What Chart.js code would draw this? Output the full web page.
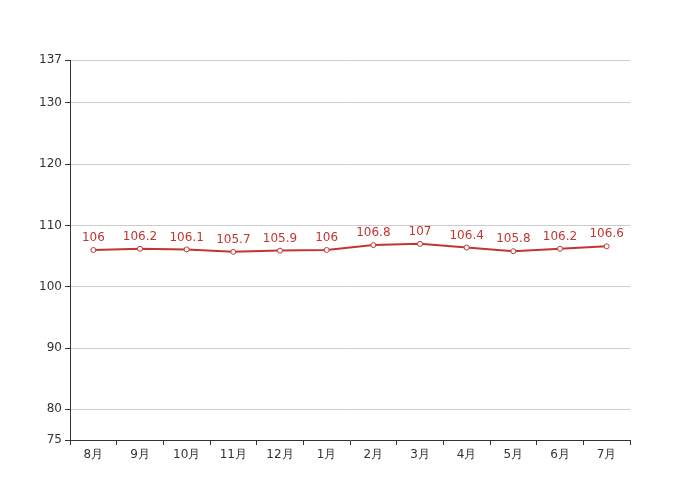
<!DOCTYPE html>
<html>
<head>
<meta charset="utf-8">
<script src="https://cdn.jsdelivr.net/npm/chart.js@4"></script>
<style>
  body { margin: 0; background: #fff; }
  #wrap { width: 700px; height: 500px; }
</style>
</head>
<body>
<div id="wrap"><canvas id="chart" width="700" height="500"></canvas></div>
<script>
const months = ["8月", "9月", "10月", "11月", "12月", "1月", "2月", "3月", "4月", "5月", "6月", "7月"];
const values = [106, 106.2, 106.1, 105.7, 105.9, 106, 106.8, 107, 106.4, 105.8, 106.2, 106.6];
const yTicks = [75, 80, 90, 100, 110, 120, 130, 137];

const lineColor = "#c23531";

const valueLabels = {
  id: "valueLabels",
  afterDatasetsDraw(chart) {
    const ctx = chart.ctx;
    const meta = chart.getDatasetMeta(0);
    ctx.save();
    ctx.font = "12px 'DejaVu Sans'";
    ctx.fillStyle = lineColor;
    ctx.textAlign = "center";
    ctx.textBaseline = "bottom";
    meta.data.forEach((pt, i) => {
      ctx.fillText(String(values[i]), pt.x, pt.y - 6);
    });
    ctx.restore();
  },
};

new Chart(document.getElementById("chart").getContext("2d"), {
  type: "line",
  data: {
    labels: months,
    datasets: [
      {
        data: values,
        borderColor: lineColor,
        borderWidth: 2,
        pointRadius: 2.5,
        pointBorderWidth: 1,
        pointBackgroundColor: "#fff",
        pointBorderColor: lineColor,
        tension: 0,
      },
    ],
  },
  options: {
    responsive: false,
    animation: false,
    layout: { padding: { top: 60, right: 70, left: 0, bottom: 0 } },
    plugins: { legend: { display: false }, tooltip: { enabled: false } },
    scales: {
      x: {
        offset: true,
        grid: {
          offset: true,
          drawOnChartArea: false,
          tickLength: 5,
          tickColor: "#333",
        },
        border: { color: "#333", width: 1 },
        ticks: { color: "#333", font: { family: "DejaVu Sans", size: 12 }, padding: 3, maxRotation: 0, autoSkip: false },
        afterFit: (scale) => { scale.height = 60; },
      },
      y: {
        min: 75,
        max: 137,
        afterBuildTicks: (scale) => { scale.ticks = yTicks.map((v) => ({ value: v })); },
        grid: {
          color: (c) => (c.tick && c.tick.value === 75 ? "rgba(0,0,0,0)" : "#ccc"),
          tickColor: "#333",
          tickLength: 5,
        },
        border: { color: "#333", width: 1 },
        ticks: { color: "#333", font: { family: "DejaVu Sans", size: 12 }, padding: 3 },
        afterFit: (scale) => { scale.width = 70; },
      },
    },
  },
  plugins: [valueLabels],
});
</script>
</body>
</html>
